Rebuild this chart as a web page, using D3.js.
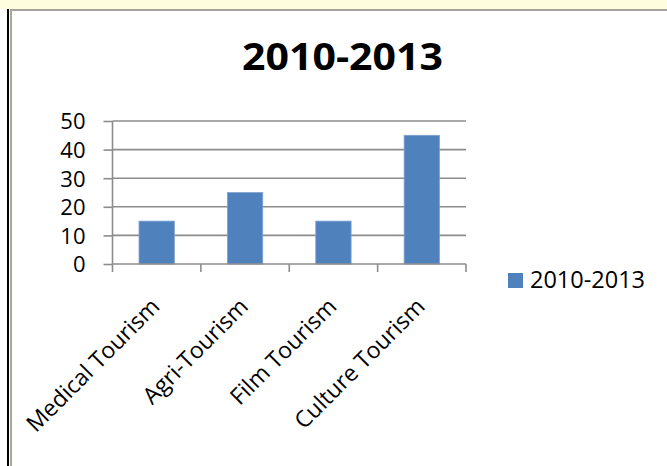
<!DOCTYPE html>
<html>
<head>
<meta charset="utf-8">
<script src="https://cdn.jsdelivr.net/npm/d3@7"></script>
<style>
  body { margin: 0; background: #ffffff; }
  text { font-family: "Open Sans", "DejaVu Sans", sans-serif; fill: #000; }
</style>
</head>
<body>
<div id="chart"></div>
<script>
// data
var categories = ["Medical Tourism", "Agri-Tourism", "Film Tourism", "Culture Tourism"];
var seriesName = "2010-2013";
var seriesValues = [15, 25, 15, 45];
var yTicks = [0, 10, 20, 30, 40, 50];

// dimensions of the page and plot area
var width = 667,
    height = 466,
    plot = {left: 112.5, right: 466, top: 121, bottom: 264};

var svg = d3.select("#chart")
  .append("svg")
    .attr("width", width)
    .attr("height", height);

// frame: pale yellow strip on top, black + grey double line on the left
svg.append("rect")
    .attr("x", 0).attr("y", 0)
    .attr("width", width).attr("height", 9)
    .attr("fill", "#fefddd");
svg.append("line")
    .attr("x1", 10).attr("x2", width)
    .attr("y1", 10).attr("y2", 10)
    .attr("stroke", "#a3a3a3").attr("stroke-width", 2);
svg.append("line")
    .attr("x1", 8).attr("x2", 8)
    .attr("y1", 9).attr("y2", height)
    .attr("stroke", "#000").attr("stroke-width", 2);
svg.append("line")
    .attr("x1", 11).attr("x2", 11)
    .attr("y1", 10).attr("y2", height)
    .attr("stroke", "#a8a896").attr("stroke-width", 2);

// title
svg.append("text")
    .attr("text-anchor", "middle")
    .attr("transform", "translate(342.5,70) scale(1.08,1)")
    .style("font-size", "38px")
    .style("font-weight", "bold")
    .text(seriesName);

// scales
var x = d3.scaleBand()
    .domain(categories)
    .range([plot.left, plot.right])
    .paddingInner(0.6)
    .paddingOuter(0.3);
var xTicks = d3.scaleBand()
    .domain(categories)
    .range([plot.left, plot.right]);
var y = d3.scaleLinear()
    .domain([0, 50])
    .range([plot.bottom, plot.top]);

// horizontal gridlines
svg.append("g")
  .selectAll("line")
  .data(yTicks.filter(function(d) { return d > 0; }))
  .enter()
  .append("line")
    .attr("x1", plot.left).attr("x2", plot.right)
    .attr("y1", function(d) { return y(d); })
    .attr("y2", function(d) { return y(d); })
    .attr("stroke", "#8c8c8c")
    .attr("stroke-width", 1.6);

// y axis
var yAxis = svg.append("g")
    .attr("transform", "translate(" + plot.left + ",0)")
    .call(d3.axisLeft(y).tickValues(yTicks).tickSize(9).tickPadding(18));
yAxis.selectAll("line, path").attr("stroke", "#8c8c8c").attr("stroke-width", 1.6);
yAxis.select("path").attr("d", "M0," + plot.top + "V" + plot.bottom);
yAxis.selectAll("text")
    .style("font-size", "22px")
    .style("font-family", "'Open Sans', sans-serif")
    .attr("fill", "#000")
    .attr("dy", "0.36em");

// bars
svg.append("g")
  .selectAll("rect")
  .data(seriesValues)
  .enter()
  .append("rect")
    .attr("x", function(d, i) { return x(categories[i]); })
    .attr("width", x.bandwidth())
    .attr("y", function(d) { return y(d); })
    .attr("height", function(d) { return y(0) - y(d); })
    .attr("fill", "#4f81bd")
    .attr("stroke", "#7fa2cf")
    .attr("stroke-width", 0.8);

// x axis line and category boundary ticks
var xAxis = svg.append("g");
xAxis.append("line")
    .attr("x1", plot.left).attr("x2", plot.right)
    .attr("y1", plot.bottom).attr("y2", plot.bottom)
    .attr("stroke", "#8c8c8c").attr("stroke-width", 1.6);
xAxis.selectAll("line.tick")
  .data(categories.map(function(c) { return xTicks(c); }).concat([plot.right]))
  .enter()
  .append("line")
    .attr("class", "tick")
    .attr("x1", function(d) { return d; })
    .attr("x2", function(d) { return d; })
    .attr("y1", plot.bottom).attr("y2", plot.bottom + 8)
    .attr("stroke", "#8c8c8c").attr("stroke-width", 1.6);

// rotated category labels
xAxis.selectAll("text")
  .data(categories)
  .enter()
  .append("text")
    .attr("text-anchor", "end")
    .attr("transform", function(d) {
      return "translate(" + (xTicks(d) + xTicks.bandwidth() / 2 + 4.5) + "," + (plot.bottom + 44) + ") rotate(-45)";
    })
    .style("font-size", "23px")
    .text(function(d) { return d; });

// legend
var legend = svg.append("g")
    .attr("transform", "translate(508,273)");
legend.append("rect")
    .attr("width", 15).attr("height", 15)
    .attr("fill", "#4f81bd");
legend.append("text")
    .attr("x", 22)
    .attr("y", 15)
    .style("font-size", "23.5px")
    .text(seriesName);
</script>
</body>
</html>
